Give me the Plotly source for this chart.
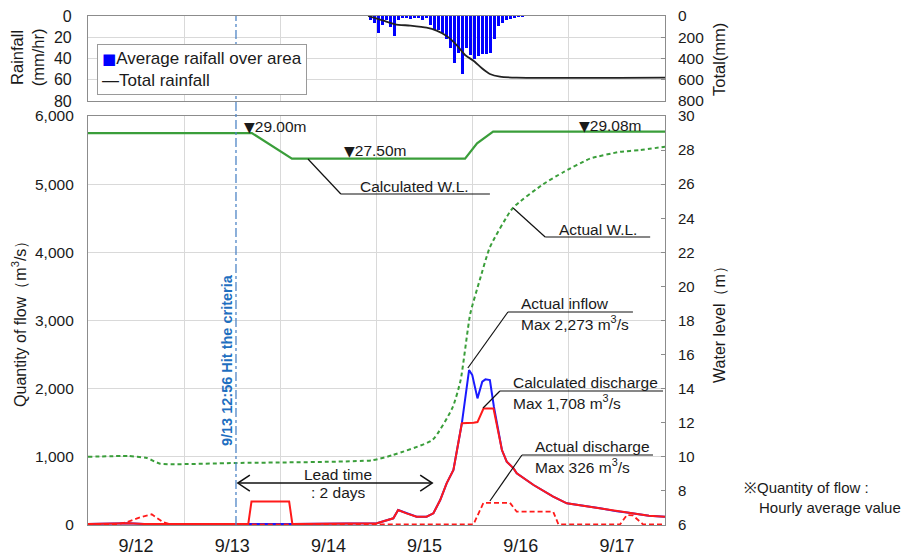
import pandas as pd
import plotly.graph_objects as go

BASE = pd.Timestamp("2019-09-12 00:00")

def T(h):
    return (BASE + pd.Timedelta(hours=h)).strftime("%Y-%m-%d %H:%M:%S")

# ---------------- data (hours since 9/12 0:00) ----------------
rain_hours = list(range(70, 109))
rain_mm = [4, 7, 16, 8, 4, 10, 19, 4, 2, 2, 3, 1, 1, 4, 2, 8, 13, 13, 16, 22,
           30, 44, 35, 55, 30, 37, 40, 38, 36, 36, 35, 22, 9, 7, 4, 2.5, 1.5, 0.6, 0.4]

total_h = [69.9, 73.7, 76.6, 80.4, 84.5, 87.0, 89.5, 92.0, 94.1, 96.2, 98.3, 100.3, 102.8, 107.0, 144]
total_mm = [0, 44, 78, 91, 110, 138, 188, 273, 367, 421, 492, 546, 571, 580, 580]

calc_wl_h = [0, 40.9, 50.9, 94.1, 97.1, 101.1, 144]
calc_wl = [29.0, 29.0, 27.5, 27.5, 28.4, 29.08, 29.08]

act_wl_h = [0, 10, 14.7, 18, 37, 71, 76, 86, 91, 93, 95.4, 97.8, 100.3, 106, 113.6, 118.6, 125.3, 132.8, 137.8, 144]
act_wl = [10.0, 10.05, 9.93, 9.6, 9.64, 9.8, 10.1, 11.0, 12.9, 14.5, 18.4, 20.4, 22.3, 24.6, 26.0, 26.7, 27.5, 27.9, 28.0, 28.2]

calc_q_h = [0, 10, 14, 40.0, 40.8, 50.2, 51.0, 72.1, 76.2, 77.4, 79.5, 82, 84.5, 86.2, 87.9, 89.5, 91.2, 92,
            93.3, 96.2, 97.2, 98.7, 101.2, 103.3, 104.5, 106.2, 107, 111.2, 116.1, 119.5, 127.8, 132, 134.5,
            136.1, 140, 144]
calc_q = [15, 25, 15, 15, 345, 345, 15, 25, 98, 220, 170, 122, 122, 172, 367, 612, 807, 1052,
          1492, 1500, 1510, 1708, 1708, 1100, 929, 831, 758, 587, 415, 318, 245, 200, 185,
          172, 135, 122]

inflow_h = [0, 10, 14, 40.0, 40.8, 50.2, 51.0, 72.1, 76.2, 77.4, 79.5, 82, 84.5, 86.2, 87.9, 89.5, 91.2, 92,
            93.3, 95.1, 95.9, 97.2, 98.4, 99.2, 100.3, 101.3, 103.3, 104.5, 106.2, 107, 111.2, 116.1,
            119.5, 127.8, 132, 134.5, 136.1, 140, 144]
inflow_q = [15, 25, 15, 15, 5, 5, 15, 25, 98, 220, 170, 122, 122, 172, 367, 612, 807, 1052,
            1492, 2273, 2200, 1858, 2102, 2137, 2127, 1735, 1100, 929, 831, 758, 587, 415,
            318, 245, 200, 185, 172, 135, 122]

act_q_h = [0, 7.2, 9.7, 13, 15.9, 18.8, 20.5, 96.2, 98.7, 105.3, 107, 116.1, 117.4, 132.8, 134.5, 136, 138.5, 144]
act_q = [10, 10, 40, 113, 157, 40, 10, 10, 326, 326, 195, 195, 10, 10, 147, 140, 10, 10]

day_labels_fmt = "%-m/%-d"
criteria_time = "2019-09-13 12:56:00"

# ---------------- styling ----------------
FONT = "Liberation Sans, Arial, sans-serif"
GREEN = "#3a9e3a"
RED = "#ff1a1a"
BLUE = "#1a1aff"
GRID = "#d9d9d9"
FRAME = "#8c8c8c"
TXT = "#1a1a1a"
TRI = "<span style=\"font-family:'DejaVu Sans';font-size:14px\">▼</span>"

fig = go.Figure()

# rainfall panel
fig.add_trace(go.Bar(x=[T(h + 0.5) for h in rain_hours], y=rain_mm, marker_color="#0000ff",
                     marker_line_width=0, width=3600000 * 0.78, xaxis="x2", yaxis="y3",
                     showlegend=False))
fig.add_trace(go.Scatter(x=[T(h) for h in total_h], y=total_mm, mode="lines",
                         line=dict(color="#222222", width=1.8, shape="spline", smoothing=0.6),
                         xaxis="x2", yaxis="y4", showlegend=False))

# water levels (right axis)
fig.add_trace(go.Scatter(x=[T(h) for h in act_wl_h], y=act_wl, mode="lines",
                         line=dict(color=GREEN, width=2, dash="4px,3px", shape="spline", smoothing=0.5),
                         xaxis="x", yaxis="y2", showlegend=False))
fig.add_trace(go.Scatter(x=[T(h) for h in calc_wl_h], y=calc_wl, mode="lines",
                         line=dict(color=GREEN, width=2.2),
                         xaxis="x", yaxis="y2", showlegend=False))

# flows (left axis)
fig.add_trace(go.Scatter(x=[T(h) for h in inflow_h], y=inflow_q, mode="lines",
                         line=dict(color=BLUE, width=2), xaxis="x", yaxis="y", showlegend=False))
fig.add_trace(go.Scatter(x=[T(h) for h in calc_q_h], y=calc_q, mode="lines",
                         line=dict(color=RED, width=2), xaxis="x", yaxis="y", showlegend=False))
fig.add_trace(go.Scatter(x=[T(h) for h in act_q_h], y=act_q, mode="lines",
                         line=dict(color=RED, width=1.8, dash="5px,3px"), xaxis="x", yaxis="y",
                         showlegend=False))

xcommon = dict(type="date", range=[T(0), T(144)], dtick=86400000, tick0=T(0),
               showgrid=True, gridcolor=GRID, gridwidth=1, showline=True, linecolor=FRAME,
               linewidth=1.2, mirror=True, zeroline=False, automargin=False)

fig.update_layout(
    width=909, height=555,
    margin=dict(l=88, r=244, t=16, b=30),
    paper_bgcolor="white", plot_bgcolor="white",
    font=dict(family=FONT, size=15, color=TXT),
    showlegend=False,
    bargap=0,
    xaxis=dict(**xcommon, domain=[0, 1], anchor="y", tickformat=day_labels_fmt,
               ticklabelmode="period", tickfont=dict(size=18), ticklabelstandoff=4),
    xaxis2=dict(**xcommon, domain=[0, 1], anchor="y3", matches="x", showticklabels=False),
    yaxis=dict(domain=[0, 0.8035], range=[0, 6000], dtick=1000, tickformat=",",
               showgrid=True, gridcolor=GRID, showline=True, linecolor=FRAME, linewidth=1.2,
               mirror=True, zeroline=False, ticklabelstandoff=10, tickfont=dict(size=15.5),
               automargin=False),
    yaxis2=dict(overlaying="y", side="right", anchor="x", range=[6, 30], dtick=2, showgrid=False,
                zeroline=False, ticks="inside", ticklen=4, tickcolor=FRAME,
                ticklabelstandoff=12, tickfont=dict(size=15), automargin=False),
    yaxis3=dict(domain=[0.833, 1], range=[80, 0], dtick=20, anchor="x2", showgrid=True,
                gridcolor=GRID, showline=True, linecolor=FRAME, linewidth=1.2, mirror=True,
                zeroline=False, ticklabelstandoff=12, tickfont=dict(size=16), automargin=False),
    yaxis4=dict(overlaying="y3", side="right", anchor="x2", range=[800, 0], dtick=200,
                showgrid=False, zeroline=False, ticks="inside", ticklen=4, tickcolor=FRAME,
                ticklabelstandoff=12, tickfont=dict(size=15.5), automargin=False),
)

ANN = dict(size=15.5, family=FONT, color=TXT)
shapes = []
anns = []

def seg(h0, q0, h1, q1, color="#111111", width=1.2):
    shapes.append(dict(type="line", xref="x", yref="y", x0=T(h0), y0=q0, x1=T(h1), y1=q1,
                       line=dict(color=color, width=width)))

def txt(h, q, s, xa="left", ya="middle", yshift=0, font=ANN):
    anns.append(dict(x=T(h), y=q, xref="x", yref="y", text=s, showarrow=False,
                     xanchor=xa, yanchor=ya, yshift=yshift, font=font, align="left"))

# criteria line through both panels
shapes.append(dict(type="line", xref="x", yref="paper", x0=criteria_time, x1=criteria_time,
                   y0=0, y1=1, line=dict(color="#4f86c6", width=1.3, dash="dashdot")))
anns.append(dict(x=criteria_time, y=2420, xref="x", yref="y", text="<b>9/13 12:56 Hit the criteria</b>",
                 textangle=-90, showarrow=False, xanchor="center", yanchor="middle", xshift=-9,
                 font=dict(size=14.5, family=FONT, color="#1f6fc0")))

# water level marks
txt(38.4, 5853, TRI + "29.00m")
txt(63.4, 5487, TRI + "27.50m")
txt(122.0, 5868, TRI + "29.08m")

# leader lines and labels
seg(54.9, 5369, 63.1, 4856); seg(63.1, 4856, 100.3, 4856)
txt(67.4, 4856, "Calculated W.L.", ya="bottom", yshift=-3)

seg(106.1, 4650, 114.1, 4225); seg(114.1, 4225, 140.3, 4225)
txt(117.1, 4225, "Actual W.L.", ya="bottom", yshift=-3)

seg(94.8, 2303, 104.8, 3125); seg(104.8, 3125, 136.0, 3125)
txt(107.6, 3125, "Actual inflow", ya="bottom", yshift=-2)
txt(107.6, 3125, "Max 2,273 m<sup>3</sup>/s", ya="top", yshift=1)

seg(98.6, 1716, 102.8, 1966); seg(102.8, 1966, 143.5, 1966)
txt(105.6, 1966, "Calculated discharge", ya="bottom", yshift=-2)
txt(105.6, 1966, "Max 1,708 m<sup>3</sup>/s", ya="top", yshift=1)

seg(100.3, 352, 108.3, 1027); seg(108.3, 1027, 141.0, 1027)
txt(111.1, 1027, "Actual discharge", ya="bottom", yshift=-2)
txt(111.1, 1027, "Max 326 m<sup>3</sup>/s", ya="top", yshift=1)

# lead time double arrow
seg(37.4, 616, 85.9, 616, width=1.5)
shapes.append(dict(type="path", xref="x", yref="y", xsizemode="pixel", ysizemode="pixel",
                   xanchor=T(37.4), yanchor=616, path="M 12,-8 L 0,0 L 12,8",
                   line=dict(color="#111111", width=1.5)))
shapes.append(dict(type="path", xref="x", yref="y", xsizemode="pixel", ysizemode="pixel",
                   xanchor=T(85.9), yanchor=616, path="M -12,-8 L 0,0 L -12,8",
                   line=dict(color="#111111", width=1.5)))
txt(62.4, 616, "Lead time", xa="center", ya="bottom", yshift=-2)
txt(62.4, 616, ": 2 days", xa="center", ya="top", yshift=1)

# axis titles and notes (paper coords)
def ptxt(x, y, s, angle=0, xa="center", ya="middle", size=15.5):
    anns.append(dict(x=x, y=y, xref="paper", yref="paper", text=s, showarrow=False, textangle=angle,
                     xanchor=xa, yanchor=ya, align="left", font=dict(size=size, family=FONT, color=TXT)))

ptxt(-0.1196, 0.4028, "Quantity of flow（m<sup>3</sup>/s）", angle=-90, size=16)
ptxt(1.0953, 0.4028, "Water level（m）", angle=-90, size=16)
anns.append(dict(x=-0.1057, y=0.919, xref="paper", yref="paper", text="Rainfall<br>(mm/hr)",
                 showarrow=False, textangle=-90, xanchor="center", yanchor="middle", align="center",
                 font=dict(size=16.5, family=FONT, color=TXT)))
ptxt(1.0936, 0.9136, "Total(mm)", angle=-90, size=16.5)
ptxt(1.1334, 0.0727, "※Quantity of flow :", xa="left", size=15)
ptxt(1.1594, 0.0334, "Hourly average value", xa="left", size=15)

# legend box in rainfall panel
anns.append(dict(x=(97 - 88) / 577, y=(525 - 44) / 509, xref="paper", yref="paper",
                 text="<span style=\"color:#0000ff;font-family:'DejaVu Sans';font-size:15px\">■</span>"
                      "Average raifall over area<br>—Total rainfall",
                 showarrow=False, xanchor="left", yanchor="top", align="left",
                 bgcolor="white", bordercolor="#9a9a9a", borderwidth=1, borderpad=4,
                 font=dict(size=17, family=FONT, color=TXT)))

fig.update_layout(shapes=shapes, annotations=anns)
fig.write_html("out.html")
